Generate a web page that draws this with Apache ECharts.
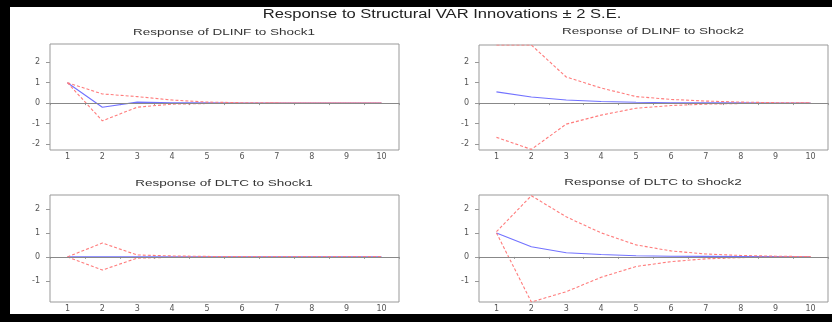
<!DOCTYPE html>
<html>
<head>
<meta charset="utf-8">
<script src="https://cdn.jsdelivr.net/npm/echarts@6/dist/echarts.min.js"></script>
<style>
  html, body { margin: 0; padding: 0; background: #fff; }
  #chart { width: 832px; height: 322px; }
</style>
</head>
<body>
<div id="chart"></div>
<script>
const steps = ['1', '2', '3', '4', '5', '6', '7', '8', '9', '10'];

const dlinfShock1 = [1.0, -0.2, 0.05, 0.02, 0.01, 0, 0, 0, 0, 0];
const dlinfShock1Upper = [1.0, 0.45, 0.32, 0.15, 0.05, 0.02, 0.01, 0, 0, 0];
const dlinfShock1Lower = [1.0, -0.87, -0.2, -0.05, -0.02, -0.01, 0, 0, 0, 0];

const dlinfShock2 = [0.55, 0.3, 0.15, 0.08, 0.04, 0.02, 0.01, 0.01, 0, 0];
const dlinfShock2Upper = [2.85, 2.85, 1.28, 0.74, 0.32, 0.18, 0.1, 0.05, 0.02, 0.01];
const dlinfShock2Lower = [-1.68, -2.27, -1.03, -0.59, -0.25, -0.12, -0.05, -0.02, -0.01, 0];

const dltcShock1 = [0, 0, 0, 0, 0, 0, 0, 0, 0, 0];
const dltcShock1Upper = [0, 0.58, 0.08, 0.04, 0.02, 0.01, 0, 0, 0, 0];
const dltcShock1Lower = [0, -0.55, -0.05, -0.02, -0.01, 0, 0, 0, 0, 0];

const dltcShock2 = [1.0, 0.42, 0.17, 0.1, 0.05, 0.03, 0.02, 0.01, 0.01, 0];
const dltcShock2Upper = [1.05, 2.55, 1.67, 1.0, 0.5, 0.25, 0.12, 0.06, 0.03, 0.01];
const dltcShock2Lower = [1.0, -1.88, -1.45, -0.85, -0.4, -0.2, -0.08, -0.03, -0.01, 0];

const topTicks = [-2, -1, 0, 1, 2];
const bottomTicks = [-1, 0, 1, 2];

const mainTitle = 'Response to Structural VAR Innovations ± 2 S.E.';
const panelTitles = [
  'Response of DLINF to Shock1',
  'Response of DLINF to Shock2',
  'Response of DLTC to Shock1',
  'Response of DLTC to Shock2'
];

const panels = [
  { mid: dlinfShock1, up: dlinfShock1Upper, lo: dlinfShock1Lower, ticks: topTicks, min: -2.3, max: 2.9 },
  { mid: dlinfShock2, up: dlinfShock2Upper, lo: dlinfShock2Lower, ticks: topTicks, min: -2.3, max: 2.85 },
  { mid: dltcShock1, up: dltcShock1Upper, lo: dltcShock1Lower, ticks: bottomTicks, min: -1.88, max: 2.58 },
  { mid: dltcShock2, up: dltcShock2Upper, lo: dltcShock2Lower, ticks: bottomTicks, min: -1.88, max: 2.58 }
];

const grids = [
  { left: 50, top: 44, width: 349, height: 106 },
  { left: 479, top: 45, width: 349, height: 105 },
  { left: 50, top: 195, width: 349, height: 107 },
  { left: 479, top: 195, width: 349, height: 107 }
];

const titlePos = [
  { x: 224, y: 32 },
  { x: 653, y: 31 },
  { x: 224, y: 183 },
  { x: 653, y: 182 }
];

const chart = echarts.init(document.getElementById('chart'));

const blue = '#7272ff';
const red = '#ff7c7c';
const font = 'Liberation Sans, Arial';
const labelStyle = { fontFamily: 'DejaVu Sans', fontSize: 8, color: '#555' };

// stretched text, the scanned figure is wider than it is tall
function stretchedText(text, x, y, size, sx, color) {
  return {
    type: 'text', x: x, y: y, scaleX: sx, z: 50,
    style: { text: text, fontFamily: font, fontSize: size, fill: color, align: 'center', verticalAlign: 'middle' }
  };
}

const option = {
  backgroundColor: '#fff',
  animation: false,
  grid: grids.map(g => ({ ...g, show: true, borderColor: '#999', borderWidth: 1, backgroundColor: '#fff' })),
  xAxis: panels.map((p, i) => ({
    type: 'category',
    gridIndex: i,
    data: steps,
    boundaryGap: true,
    axisLine: { show: true, lineStyle: { color: '#999' } },
    axisTick: { show: true, length: 2, lineStyle: { color: '#999' } },
    axisLabel: { ...labelStyle, margin: 3 },
    splitLine: { show: false }
  })),
  yAxis: panels.map((p, i) => ({
    type: 'value',
    gridIndex: i,
    min: p.min,
    max: p.max,
    axisLine: { show: false },
    axisTick: { show: true, length: 4, customValues: p.ticks, lineStyle: { color: '#999' } },
    axisLabel: { ...labelStyle, margin: 10, customValues: p.ticks },
    splitLine: { show: false }
  })),
  series: panels.flatMap((p, i) => [
    {
      type: 'line', xAxisIndex: i, yAxisIndex: i, data: p.mid,
      symbol: 'none', clip: true,
      lineStyle: { color: blue, width: 1.1 },
      markLine: {
        silent: true, symbol: 'none', label: { show: false },
        lineStyle: { color: '#888', width: 1, type: 'solid' },
        data: [{ yAxis: 0 }]
      },
      z: 3
    },
    {
      type: 'line', xAxisIndex: i, yAxisIndex: i, data: p.up,
      symbol: 'none', clip: true,
      lineStyle: { color: red, width: 1.1, type: [3, 2] },
      z: 4
    },
    {
      type: 'line', xAxisIndex: i, yAxisIndex: i, data: p.lo,
      symbol: 'none', clip: true,
      lineStyle: { color: red, width: 1.1, type: [3, 2] },
      z: 4
    }
  ]),
  graphic: [
    stretchedText(mainTitle, 442, 15, 12, 1.38, '#222'),
    ...panelTitles.map((t, i) => stretchedText(t, titlePos[i].x, titlePos[i].y, 9.5, 1.42, '#333')),
    { type: 'rect', shape: { x: 0, y: 0, width: 832, height: 7 }, style: { fill: '#000' }, z: 100 },
    { type: 'rect', shape: { x: 0, y: 0, width: 10, height: 322 }, style: { fill: '#000' }, z: 100 },
    { type: 'rect', shape: { x: 0, y: 314, width: 832, height: 8 }, style: { fill: '#000' }, z: 100 }
  ]
};

chart.setOption(option);
</script>
</body>
</html>
